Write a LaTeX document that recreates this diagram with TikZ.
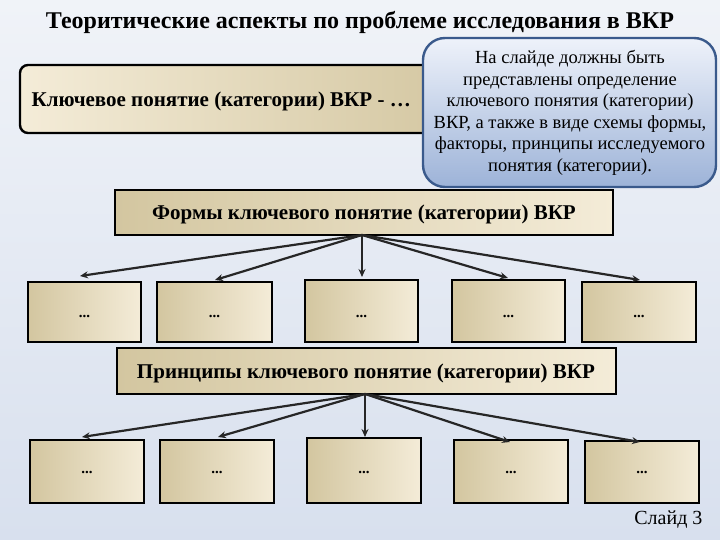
\documentclass[tikz,border=0pt]{standalone}
\usepackage{fontspec}
\usetikzlibrary{arrows.meta}
\setmainfont{Liberation Serif}
\begin{document}
\begin{tikzpicture}[x=1pt,y=-1pt,
  box/.style={draw=black,line width=2.4pt,left color=boxdark,right color=boxlight,inner sep=0pt},
  arr/.style={-{Stealth[length=8pt,width=7pt]},line width=2.2pt,draw=black!85},
  lbl/.style={font=\bfseries\fontsize{21}{24}\selectfont}]
\definecolor{boxdark}{HTML}{D3C6A0}
\definecolor{boxlight}{HTML}{F4ECD8}
\definecolor{bgtop}{HTML}{F0F3F8}
\definecolor{bgbot}{HTML}{D8E0EE}
\definecolor{calltop}{HTML}{EEF2FA}
\definecolor{callbot}{HTML}{9DB3D8}
\definecolor{callline}{HTML}{3A5A8C}
\useasboundingbox (0,0) rectangle (720,540);
\shade[top color=bgtop,bottom color=bgbot] (0,0) rectangle (720,540);
\node[font=\bfseries\fontsize{24}{28}\selectfont] (title) at (360,22) {Теоритические аспекты по проблеме исследования в ВКР};
% key concept
\draw[box,rounded corners=8pt,left color=boxlight,right color=boxdark] (20,65) rectangle (470,133);
\node[lbl,anchor=west] (key) at (28,101) {Ключевое понятие (категории) ВКР - …};
% callout
\draw[rounded corners=22pt,top color=calltop,bottom color=callbot,draw=callline,line width=2.4pt] (423,38) rectangle (716,187);
\node[align=center,font=\fontsize{18.5}{21.5}\selectfont] (call) at (570,113) {На слайде должны быть\\представлены определение\\ключевого понятия (категории)\\ВКР, а также в виде схемы формы,\\факторы, принципы исследуемого\\понятия (категории).};
% forms
\draw[box] (115,190) rectangle (613,235);
\node[lbl] (forms) at (364,214) {Формы ключевого понятие (категории) ВКР};
\coordinate (fo) at (362,235);
\foreach \i/\a/\b/\t in {1/28/141/282,2/157/272/282,3/305/418/280,4/452/565/280,5/582/696/282}{
  \draw[box] (\a,\t) rectangle (\b,342);
  \node[font=\bfseries\fontsize{15}{18}\selectfont] (f\i) at ({(\a+\b)/2},316) {...};
}
\foreach \x/\y in {80/276,215/280,362/277,508/278,640/280}{
  \draw[arr] (fo) -- (\x,\y);
}
% principles
\draw[box] (117,348) rectangle (616,394);
\node[lbl] (pr) at (366,373) {Принципы ключевого понятие (категории) ВКР};
\coordinate (po) at (365,394);
\foreach \i/\a/\b/\t in {1/30/144/440,2/160/274/440,3/307/421/438,4/454/568/440,5/585/699/441}{
  \draw[box] (\a,\t) rectangle (\b,503);
  \node[font=\bfseries\fontsize{15}{18}\selectfont] (p\i) at ({(\a+\b)/2},472) {...};
}
\foreach \x/\y in {82/437,218/437,365/437,510/442,640/442}{
  \draw[arr] (po) -- (\x,\y);
}
\node[font=\fontsize{20}{24}\selectfont,anchor=east] (slide) at (706,520) {Слайд 3};
\end{tikzpicture}
\end{document}
